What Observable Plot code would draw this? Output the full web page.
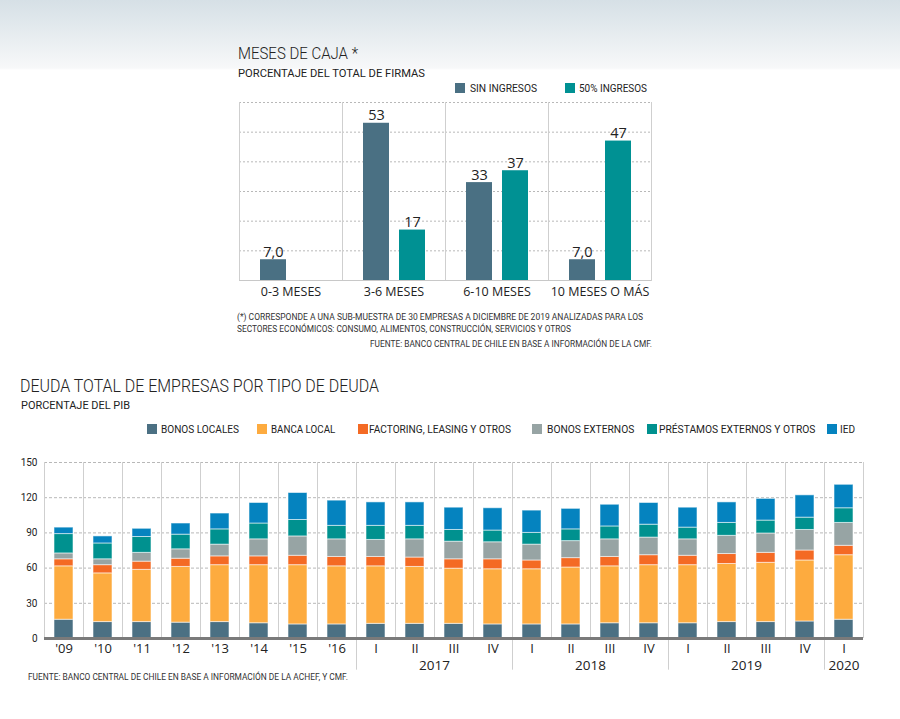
<!DOCTYPE html>
<html><head><meta charset="utf-8">
<script src="https://cdn.jsdelivr.net/npm/d3@7"></script>
<script src="https://cdn.jsdelivr.net/npm/@observablehq/plot@0.6"></script>
<style>
html,body{margin:0;padding:0;}
body{width:900px;height:719px;position:relative;overflow:hidden;
  background:linear-gradient(to bottom,#d6e0e6 0px,#e9eef1 40px,#f7f8f9 68px,#fff 70px,#fff 100%);
  font-family:"Roboto",sans-serif;color:#222;}
.t{position:absolute;white-space:nowrap;line-height:1;transform-origin:0 50%;}
.sw{position:absolute;width:10px;height:10px;}
.plot{position:absolute;left:0;}
</style></head><body>
<script>
// ---------- Data: MESES DE CAJA ----------
const cashCategories = ["0-3 MESES", "3-6 MESES", "6-10 MESES", "10 MESES O MÁS"];
const cashSeries = ["SIN INGRESOS", "50% INGRESOS"];
const sinIngresos = [7, 53, 33, 7];
const ingresos50 = [0, 17, 37, 47];
const cashColors = ["#4a7083", "#009193"];
const cashGrid = [10, 20, 30, 40, 50, 60];

// ---------- Data: DEUDA TOTAL DE EMPRESAS ----------
const periodLabels = ["'09","'10","'11","'12","'13","'14","'15","'16","I","II","III","IV","I","II","III","IV","I","II","III","IV","I"];
const periodYears  = ["","","","","","","","","2017","2017","2017","2017","2018","2018","2018","2018","2019","2019","2019","2019","2020"];
const debtTypes = ["BONOS LOCALES", "BANCA LOCAL", "FACTORING, LEASING Y OTROS", "BONOS EXTERNOS", "PRÉSTAMOS EXTERNOS Y OTROS", "IED"];
const bonosLocales  = [16, 14, 14, 13.5, 14, 13, 12, 12, 12.5, 12.5, 12.5, 12, 12, 12, 13, 13, 13, 14, 14, 14.5, 16];
const bancaLocal    = [45.5, 41.5, 44.5, 47.5, 48.5, 49.5, 50.5, 49.5, 49, 48.5, 47, 47, 47, 48.5, 48.5, 49.5, 49.5, 49.5, 50.5, 52, 55];
const factoring     = [6, 7, 7, 7, 7.5, 7.5, 8, 8, 8, 8, 8, 8.5, 7.5, 8, 8, 8.5, 8, 8.5, 8.5, 8.5, 8];
const bonosExternos = [5, 5, 7.5, 8, 10, 14.5, 16.5, 15, 14.5, 15.5, 15, 14.5, 13.5, 14.5, 15, 15, 14, 15.5, 16.5, 17.5, 19.5];
const prestamos     = [16.5, 13.5, 13.5, 12.5, 13, 13.5, 14, 11.5, 12, 11.5, 10, 10, 10, 10, 11, 11, 10, 11, 11, 10.5, 12.5];
const ied           = [5.5, 6, 7, 9.5, 13.5, 17.5, 23, 21.5, 20, 20, 19, 19, 19, 17.5, 18.5, 18.5, 17, 17.5, 18.5, 19, 20];
const debtColors = ["#4b7083", "#fdab3f", "#f46a24", "#97a4a4", "#00918f", "#0583bf"];
const debtTicks = [0, 30, 60, 90, 120, 150];

// ---------- helpers ----------
// fitW: width of the text in the reference layout; the text is squeezed horizontally to that width
function addText(str, left, top, size, fitW, extra = {}) {
  const d = document.createElement("div");
  d.className = "t";
  d.textContent = str;
  d.style.left = left + "px";
  d.style.top = top + "px";
  d.style.fontSize = size + "px";
  Object.assign(d.style, extra);
  document.body.appendChild(d);
  if (fitW) {
    const w = d.getBoundingClientRect().width;
    if (w > 0) d.style.transform = `scaleX(${fitW / w})`;
  }
  return d;
}
function addSwatch(color, left, top, size = 10) {
  const d = document.createElement("div");
  d.className = "sw";
  d.style.background = color;
  d.style.left = left + "px";
  d.style.top = top + "px";
  d.style.width = size + "px";
  d.style.height = size + "px";
  document.body.appendChild(d);
}

// ---------- Top chart text ----------
addText("MESES DE CAJA *", 238, 46, 16.5, 120, {fontWeight: 300});
addText("PORCENTAJE DEL TOTAL DE FIRMAS", 238, 68, 11, 187);
const topLegend = [[454.5, 469.5, 67], [564.5, 579, 68]];
cashSeries.forEach((s, i) => {
  addSwatch(cashColors[i], topLegend[i][0], 82.7, 10.5);
  addText(s, topLegend[i][1], 82.5, 11, topLegend[i][2]);
});

// ---------- Top chart ----------
const fmt = v => v < 10 ? v.toFixed(1).replace(".", ",") : String(Math.round(v));
const cashRows = [];
cashCategories.forEach((c, i) => {
  cashRows.push({cat: c, series: cashSeries[0], value: sinIngresos[i]});
  cashRows.push({cat: c, series: cashSeries[1], value: ingresos50[i]});
});

const topPlot = Plot.plot({
  width: 900, height: 210,
  marginTop: 7, marginBottom: 25, marginLeft: 238, marginRight: 249,
  style: {fontFamily: "'Open Sans', sans-serif", background: "transparent", color: "#222", overflow: "visible"},
  fx: {domain: cashCategories, padding: 0, label: null},
  x: {domain: cashSeries, paddingInner: 0.28, paddingOuter: 0.57, axis: null},
  y: {domain: [0, 60], axis: null},
  color: {domain: cashSeries, range: cashColors},
  marks: [
    Plot.gridY(cashGrid, {stroke: "#b8b8b8", strokeOpacity: 1, strokeDasharray: "2,2"}),
    Plot.frame({anchor: "left", stroke: "#cfcfcf"}),
    Plot.frame({anchor: "right", stroke: "#cfcfcf"}),
    Plot.barY(cashRows, {fx: "cat", x: "series", y: "value", fill: "series"}),
    Plot.ruleY([0], {stroke: "#c8c8c8"}),
    Plot.text(cashRows.filter(d => d.value > 0), {fx: "cat", x: "series", y: "value", text: d => fmt(d.value), lineAnchor: "bottom", dy: -3, fontSize: 14.5, fill: "#222"}),
    Plot.axisFx({anchor: "bottom", tickSize: 0, tickPadding: 7, fontSize: 12.5, label: null})
  ]
});
topPlot.classList.add("plot");
topPlot.style.top = "95px";
document.body.appendChild(topPlot);

addText("(*) CORRESPONDE A UNA SUB-MUESTRA DE 30 EMPRESAS A DICIEMBRE DE 2019 ANALIZADAS PARA LOS", 237.3, 312, 9.3, 406, {color: "#333"});
addText("SECTORES ECONÓMICOS: CONSUMO, ALIMENTOS, CONSTRUCCIÓN, SERVICIOS Y OTROS", 237.3, 324, 9.3, 334, {color: "#333"});
addText("FUENTE: BANCO CENTRAL DE CHILE EN BASE A INFORMACIÓN DE LA CMF.", 369.5, 339, 9.3, 282, {color: "#333"});

// ---------- Bottom chart text ----------
addText("DEUDA TOTAL DE EMPRESAS POR TIPO DE DEUDA", 20, 377, 18, 359, {fontWeight: 300});
addText("PORCENTAJE DEL PIB", 21, 400, 11, 109);
const legendSw = [146.7, 256.7, 357.7, 531.7, 646.7, 827.3];
const legendTx = [160.7, 270.7, 369, 546.7, 659.3, 840];
const legendW  = [78, 64.3, 142, 87.3, 156.4, 15];
debtTypes.forEach((t, i) => {
  addSwatch(debtColors[i], legendSw[i], 424.3, 10);
  addText(t, legendTx[i], 423.5, 11.5, legendW[i]);
});

// ---------- Bottom chart ----------
const periodKeys = periodLabels.map((l, i) => periodYears[i] ? periodYears[i] + " " + l : l);
const labelOf = new Map(periodKeys.map((k, i) => [k, periodLabels[i]]));
const debtSeries = [bonosLocales, bancaLocal, factoring, bonosExternos, prestamos, ied];
const debtRows = [];
periodKeys.forEach((k, i) => debtTypes.forEach((t, j) => debtRows.push({period: k, type: t, value: debtSeries[j][i]})));

const years = [...new Set(periodYears.filter(Boolean))];
const yearStarts = years.map(y => periodKeys[periodYears.indexOf(y)]);
const yearLabels = years.map(y => {
  const ks = periodKeys.filter((k, i) => periodYears[i] === y);
  const n = ks.length;
  return n % 2 === 0 ? {year: y, period: ks[n / 2 - 1], pos: 1} : {year: y, period: ks[(n - 1) / 2], pos: 0.5};
});

const bottomPlot = Plot.plot({
  width: 900, height: 220,
  marginTop: 7, marginBottom: 37, marginLeft: 42, marginRight: 35,
  style: {fontFamily: "'Open Sans', sans-serif", background: "transparent", color: "#222", overflow: "visible"},
  fx: {domain: periodKeys, padding: 0, label: null},
  x: {domain: [0, 1], axis: null},
  y: {domain: [0, 150], axis: null},
  color: {domain: debtTypes, range: debtColors},
  marks: [
    Plot.gridY(debtTicks.filter(d => d > 0), {stroke: "#b8b8b8", strokeOpacity: 1, strokeDasharray: "3,2"}),
    Plot.ruleX([0, 1], {stroke: "#cfcfcf"}),
    Plot.ruleX(yearStarts, {fx: d => d, x: 0, y1: 0, y2: -27, stroke: "#cfcfcf"}),
    Plot.barY(debtRows, Plot.stackY({fx: "period", y: "value", fill: "type", insetLeft: 10, insetRight: 10, stroke: "#ffffff", strokeOpacity: 0.55, strokeWidth: 1})),
    Plot.ruleY([0], {stroke: "#7a7a7a", strokeWidth: 3}),
    Plot.axisY(debtTicks, {tickSize: 0, tickPadding: 7, fontSize: 10, fontFamily: "'Roboto', sans-serif", label: null}),
    Plot.axisFx({anchor: "bottom", tickSize: 0, tickPadding: 5, fontSize: 13, tickFormat: k => labelOf.get(k), label: null}),
    Plot.text(yearLabels, {fx: "period", x: "pos", y: 0, dy: 27, text: "year", fontSize: 13.5, lineAnchor: "middle", fill: "#222"})
  ]
});
bottomPlot.classList.add("plot");
bottomPlot.style.top = "455px";
document.body.appendChild(bottomPlot);

addText("FUENTE: BANCO CENTRAL DE CHILE EN BASE A INFORMACIÓN DE LA ACHEF, Y CMF.", 27.5, 672, 9.3, 320, {color: "#333"});
</script>
</body></html>
